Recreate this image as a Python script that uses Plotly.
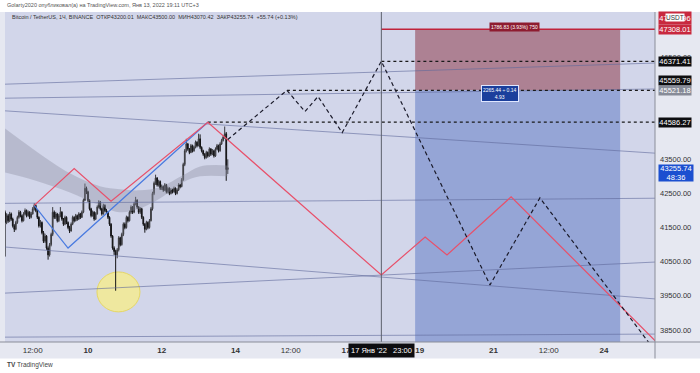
import plotly.graph_objects as go
import pandas as pd

# ---------------- data ----------------
candle_start = "2022-01-07 18:00"
opens = [41950,41650,41850,41700,41900,41750,41550,41450,41650,41800,41950,41850,41700,41900,42000,41850,41950,41800,41900,42050,
         42150,42000,41800,41550,41650,41350,41100,41250,40900,40700,41000,41300,41950,41800,41900,41700,41850,41950,41750,41600,
         41800,41650,41500,41400,41600,41800,41700,41850,41750,41900,41800,41950,42300,42650,42550,42300,42050,41850,41950,41750,
         41900,42100,42250,42050,41900,42150,42000,41950,41800,41600,41250,40900,40800,40700,40850,41200,41000,41300,41600,41500,
         41800,41700,41950,42100,41950,42200,42300,42100,41950,42050,41800,41600,41450,41650,41500,41700,42050,42500,42800,42950,
         42750,42850,42650,42700,42600,42750,42550,42650,42500,42600,42550,42650,42500,42600,42750,42700,42900,43350,43750,43950,
         43800,43700,43900,43750,43850,44000,43900,44100,43850,43750,43650,43550,43700,43600,43800,43650,43750,43600,43800,43900,
         43750,43950,44050,44150,44250,43200.01]
highs = [42000,41920,41900,41960,41940,41790,41600,41700,41850,42010,41990,41880,41950,42060,42030,42000,41980,41960,42100,42210,
         42180,42030,41830,41720,41680,41400,41320,41280,40950,41050,41350,42100,42000,41960,41930,41900,42100,41980,41780,41850,
         41830,41680,41550,41650,41850,41830,41900,41880,41950,41930,42000,42350,42790,42700,42580,42330,42080,42000,41980,41950,
         42150,42300,42280,42080,42200,42180,42050,41980,41830,41630,41280,40950,40850,40900,41250,41230,41350,41650,41650,41850,
         41830,42000,42150,42130,42250,42400,42330,42130,42100,42080,41830,41630,41700,41680,41750,42100,42550,42850,43050,42980,
         42900,42880,42760,42730,42800,42780,42700,42680,42650,42640,42700,42680,42650,42800,42780,42950,43400,43800,44100,43980,
         43830,43950,43930,43900,44050,44030,44250,44230,43880,43780,43680,43750,43730,43850,43830,43800,43780,43850,43950,43930,
         44000,44100,44200,44460,44300,43500.00]
lows = [40650,41600,41640,41660,41700,41500,41370,41420,41610,41760,41800,41650,41680,41860,41800,41820,41750,41770,41880,42000,
        41950,41750,41500,41500,41300,41050,41050,40850,40560,40650,40950,41250,41750,41750,41650,41660,41800,41700,41550,41570,
        41600,41450,41340,41380,41570,41650,41680,41700,41720,41750,41780,41920,42280,42480,42250,42000,41800,41820,41700,41720,
        41880,42060,42000,41850,41880,41950,41900,41750,41550,41200,40850,40700,39650,40600,40800,40950,40970,41250,41450,41470,
        41650,41680,41900,41900,41920,42150,42050,41900,41900,41750,41550,41350,41420,41450,41470,41680,42000,42450,42750,42700,
        42700,42600,42600,42550,42570,42500,42500,42450,42470,42500,42520,42450,42470,42570,42650,42680,42870,43300,43700,43750,
        43650,43680,43700,43720,43820,43850,43880,43800,43700,43600,43500,43520,43550,43570,43600,43620,43550,43570,43770,43700,
        43720,43920,44020,44100,42870,43070.42]
closes = [41650,41850,41700,41900,41750,41550,41450,41650,41800,41950,41850,41700,41900,42000,41850,41950,41800,41900,42050,42150,
          42000,41800,41550,41650,41350,41100,41250,40900,40700,41000,41300,41950,41800,41900,41700,41850,41950,41750,41600,41800,
          41650,41500,41400,41600,41800,41700,41850,41750,41900,41800,41950,42300,42650,42550,42300,42050,41850,41950,41750,41900,
          42100,42250,42050,41900,42150,42000,41950,41800,41600,41250,40900,40800,40700,40850,41200,41000,41300,41600,41500,41800,
          41700,41950,42100,41950,42200,42300,42100,41950,42050,41800,41600,41450,41650,41500,41700,42050,42500,42800,42950,42750,
          42850,42650,42700,42600,42750,42550,42650,42500,42600,42550,42650,42500,42600,42750,42700,42900,43350,43750,43950,43800,
          43700,43900,43750,43850,44000,43900,44100,43850,43750,43650,43550,43700,43600,43800,43650,43750,43600,43800,43900,43750,
          43950,44050,44150,44250,43200,43255.74]

# moving-average style cloud
band_times = ["2022-01-07 18:00","2022-01-08 13:30","2022-01-09 12:15","2022-01-10 07:45","2022-01-10 20:45",
              "2022-01-11 09:45","2022-01-11 22:45","2022-01-12 13:45","2022-01-13 01:00","2022-01-13 19:00"]
band_upper = [44400,43760,43090,42710,42620,42590,42680,43030,43290,43320]
band_lower = [43110,42880,42530,42150,41950,42060,42350,42820,43000,43000]

# projection zigzags
red_times = ["2022-01-08 13:00","2022-01-09 15:00","2022-01-10 15:00","2022-01-13 06:00","2022-01-17 23:00",
             "2022-01-19 03:30","2022-01-19 17:45","2022-01-21 11:30","2022-01-25 12:00"]
red_prices = [42150,43230,42270,44586.27,40110,41225,40700,42400,38060]
blue_times = ["2022-01-08 13:00","2022-01-09 11:00","2022-01-13 06:00"]
blue_prices = [42150,40900,44586.27]
dash_times = ["2022-01-13 19:00","2022-01-15 09:30","2022-01-15 21:15","2022-01-16 05:45","2022-01-16 21:30",
              "2022-01-17 23:00","2022-01-20 21:45","2022-01-22 06:15","2022-01-25 12:00"]
dash_prices = [44080,45521.18,44900,45340,44280,46371.41,39820,42370,37720]

# horizontal levels (price, start time)
level_prices = [44586.27, 45521.18, 46371.41]
level_starts = ["2022-01-13 06:00", "2022-01-15 09:30", "2022-01-17 23:00"]

# trend lines (price at range start, price at range end)
trend_start_prices = [45700, 45290, 44920, 42210, 40930, 39580, 38290]
trend_end_prices = [46320, 45559.79, 43680, 42360, 39410, 40490, 38380]

# short position tool
pos_start, pos_end = "2022-01-18 21:00", "2022-01-24 10:30"
entry, stop, target = 45521.18, 47308.01, 36712

x_range = ["2022-01-07 17:57", "2022-01-25 09:11"]
y_range = [38148, 47815]
xtick_vals = ["2022-01-08 12:00","2022-01-10","2022-01-12","2022-01-14","2022-01-15 12:00",
              "2022-01-17","2022-01-19","2022-01-21","2022-01-22 12:00","2022-01-24"]
xtick_text = ["12:00","<b>10</b>","<b>12</b>","<b>14</b>","12:00","<b>17</b>","<b>19</b>","<b>21</b>","12:00","<b>24</b>"]
ytick_vals = [38500,39500,40500,41500,42500,43500,46500]
ytick_text = ["38500.00","39500.00","40500.00","41500.00","42500.00","43500.00","46500.00"]

times = pd.date_range(candle_start, periods=len(closes), freq="h")

FONT = "Liberation Sans"
fig = go.Figure()

# cloud
fig.add_trace(go.Scatter(x=band_times, y=band_upper, mode="lines", line=dict(width=0, color="rgba(0,0,0,0)"),
                         line_shape="spline", hoverinfo="skip", showlegend=False))
fig.add_trace(go.Scatter(x=band_times, y=band_lower, mode="lines", line=dict(width=0, color="rgba(0,0,0,0)"),
                         line_shape="spline", fill="tonexty", fillcolor="rgba(140,142,160,0.38)",
                         hoverinfo="skip", showlegend=False))

# trend lines
for p0, p1 in zip(trend_start_prices, trend_end_prices):
    fig.add_trace(go.Scatter(x=x_range, y=[p0, p1], mode="lines",
                             line=dict(color="rgba(95,105,155,0.6)", width=1), hoverinfo="skip", showlegend=False))

# candles
fig.add_trace(go.Candlestick(x=times, open=opens, high=highs, low=lows, close=closes,
                             increasing=dict(line=dict(color="#3a3a3e", width=1), fillcolor="#7c7c86"),
                             decreasing=dict(line=dict(color="#141416", width=1), fillcolor="#141416"),
                             whiskerwidth=0, showlegend=False))

# levels
for p, t0 in zip(level_prices, level_starts):
    fig.add_trace(go.Scatter(x=[t0, x_range[1]], y=[p, p], mode="lines",
                             line=dict(color="#1a1a1a", width=1.3, dash="dot"), hoverinfo="skip", showlegend=False))

# zigzags
fig.add_trace(go.Scatter(x=blue_times, y=blue_prices, mode="lines", line=dict(color="#4a7be0", width=1.2),
                         hoverinfo="skip", showlegend=False))
fig.add_trace(go.Scatter(x=red_times, y=red_prices, mode="lines", line=dict(color="#e8506a", width=1.2),
                         hoverinfo="skip", showlegend=False))
fig.add_trace(go.Scatter(x=dash_times, y=dash_prices, mode="lines", line=dict(color="#1a1a2a", width=1.2, dash="4px,3px"),
                         hoverinfo="skip", showlegend=False))

# stop line
fig.add_trace(go.Scatter(x=["2022-01-17 23:00", x_range[1]], y=[stop, stop], mode="lines",
                         line=dict(color="#c0223a", width=1.6), hoverinfo="skip", showlegend=False))

shapes = [
    dict(type="rect", xref="paper", yref="paper", x0=-0.01, x1=1.08, y0=-0.05, y1=1.0,
         fillcolor="#e6e8f1", line=dict(width=0), layer="below"),
    dict(type="rect", xref="paper", yref="paper", x0=0, x1=1, y0=0, y1=1,
         fillcolor="#d2d6ea", line=dict(width=0), layer="below"),
    dict(type="rect", xref="x", yref="y", x0=pos_start, x1=pos_end, y0=entry, y1=stop,
         fillcolor="#ad8193", line=dict(width=0), layer="below"),
    dict(type="rect", xref="x", yref="y", x0=pos_start, x1=pos_end, y0=target, y1=entry,
         fillcolor="#95a5d6", line=dict(width=0), layer="below"),
    dict(type="circle", xref="x", yref="y", x0="2022-01-10 05:50", x1="2022-01-11 09:50", y0=39030, y1=40200,
         fillcolor="rgba(246,236,140,0.8)", line=dict(color="rgba(230,215,100,1)", width=1), layer="below"),
    dict(type="line", xref="x", yref="paper", x0="2022-01-17 23:00", x1="2022-01-17 23:00", y0=0, y1=1,
         line=dict(color="#5d606c", width=1)),
    dict(type="line", xref="paper", yref="paper", x0=1, x1=1, y0=-0.05, y1=1, line=dict(color="#8a8d99", width=1)),
    dict(type="line", xref="paper", yref="paper", x0=-0.01, x1=1.07, y0=0, y1=0, line=dict(color="#8a8d99", width=1)),
]

LX = 1.0046

def plabel(price, text, bg, fc="white", h=9, w=32):
    return dict(xref="paper", yref="y", x=LX, y=price, xanchor="left", yanchor="middle", text=text,
                showarrow=False, bgcolor=bg, font=dict(family=FONT, size=7.5, color=fc), width=w, height=h,
                borderpad=0, align="center", valign="middle")

ann = [
    dict(xref="paper", yref="paper", x=0.0, y=(342 - 4.5) / 330, xanchor="left", yanchor="middle",
         text="Golarty2020 опубликовал(а) на TradingView.com, Янв 13, 2022 19:11 UTC+3", showarrow=False,
         font=dict(family=FONT, size=5.5, color="#555")),
    dict(xref="paper", yref="paper", x=0.008, y=(342 - 17) / 330, xanchor="left", yanchor="middle",
         text="Bitcoin / TetherUS, 1Ч, BINANCE  ОТКР43200.01  МАКС43500.00  МИН43070.42  ЗАКР43255.74  +55.74 (+0.13%)",
         showarrow=False, font=dict(family=FONT, size=5.5, color="#333")),
    dict(xref="paper", yref="paper", x=0.0, y=(342 - 365) / 330, xanchor="left", yanchor="middle",
         text="<b>TV</b> TradingView", showarrow=False, font=dict(family=FONT, size=6.5, color="#444")),
    plabel(47640, "47632.96", "#c8283e", h=12),
    dict(xref="paper", yref="y", x=LX + 17 / 650, y=47640, xanchor="center", yanchor="middle", text="USDT",
         showarrow=False, bgcolor="white", font=dict(family=FONT, size=6.5, color="#333"), borderpad=0),
    plabel(stop, "47308.01", "#c8283e"),
    plabel(46371.41, "46371.41", "#0d0d10"),
    plabel(45823, "45559.79", "#0d0d10"),
    plabel(45521.18, "45521.18", "#878b98"),
    plabel(44586.27, "44586.27", "#0d0d10"),
    plabel(43110, "43255.74<br>48:36", "#1b4fd0", h=16, w=34),
    dict(xref="x", yref="y", x="2022-01-21 13:30", y=47390, text="1786.83 (3.93%) 750", showarrow=False,
         bgcolor="#8e1c30", font=dict(family=FONT, size=5, color="white"), borderpad=1),
    dict(xref="x", yref="y", x="2022-01-21 04:30", y=45440, text="2265.44 ÷ 0.14<br>4.93", showarrow=False,
         bgcolor="#1b3f9c", bordercolor="#dfe6ff", borderwidth=1, font=dict(family=FONT, size=5, color="white"),
         borderpad=1),
    dict(xref="x", yref="paper", x="2022-01-17 23:00", y=(342 - 350) / 330, text="17 Янв '22   23:00",
         showarrow=False, bgcolor="#0d0d10", font=dict(family=FONT, size=7.5, color="white"), borderpad=2,
         yanchor="middle"),
]

fig.update_layout(
    width=700, height=373, margin=dict(l=5, r=45, t=12, b=31),
    paper_bgcolor="white", plot_bgcolor="rgba(0,0,0,0)",
    shapes=shapes, annotations=ann, showlegend=False,
    xaxis=dict(type="date", range=x_range, tickvals=xtick_vals, ticktext=xtick_text, showgrid=False,
               zeroline=False, rangeslider=dict(visible=False), tickfont=dict(family=FONT, size=8, color="#333"),
               ticks="", ticklabelstandoff=2),
    yaxis=dict(side="right", range=y_range, tickvals=ytick_vals, ticktext=ytick_text, showgrid=False,
               zeroline=False, tickfont=dict(family=FONT, size=7.5, color="#333"), ticks="",
               ticklabelstandoff=4),
)
fig.write_html("out.html", config={"displayModeBar": False, "staticPlot": True},
               post_script="document.body.style.margin='0px';document.body.style.overflow='hidden';")
